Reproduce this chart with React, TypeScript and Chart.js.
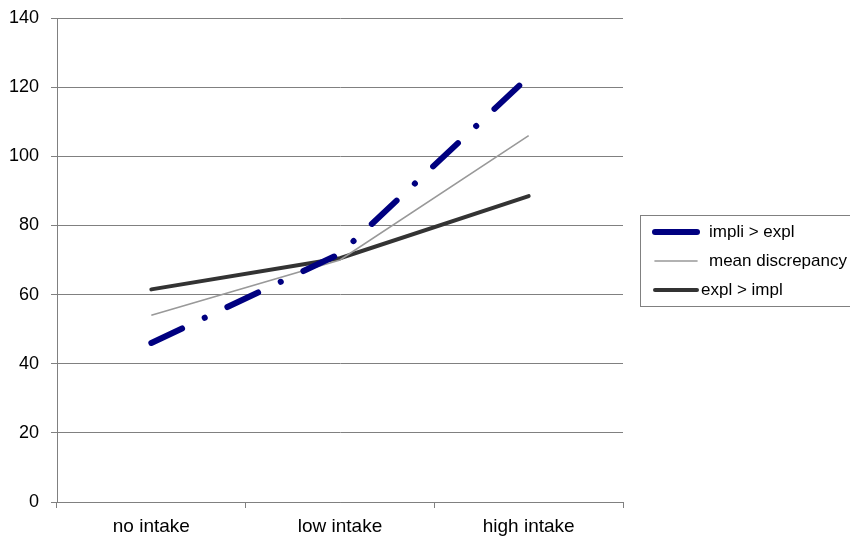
import React, { useEffect, useRef } from "react";
import { Chart, registerables } from "chart.js";

Chart.register(...registerables);

const categories = ["no intake", "low intake", "high intake"];
const impliGtExpl = [46, 71.8, 123];
const meanDiscrepancy = [54, 70, 106];
const explGtImpl = [61.5, 70.5, 88.5];
const seriesLabels = ["impli > expl", "mean discrepancy", "expl > impl"];
const yMin = 0;
const yMax = 140;
const yStep = 20;

const FONT = "'Liberation Sans', Arial, sans-serif";

const boxLegend = {
  id: "boxLegend",
  afterDraw(chart: any) {
    const ctx = chart.ctx;
    const left = 640.5;
    const top = 215.5;
    const w = 215;
    const h = 91;
    ctx.save();
    ctx.strokeStyle = "#808080";
    ctx.lineWidth = 1;
    ctx.strokeRect(left, top, w, h);
    const rowY = [232, 261, 290];
    chart.data.datasets.forEach((ds: any, i: number) => {
      const y = rowY[i];
      ctx.beginPath();
      ctx.setLineDash([]);
      ctx.lineCap = "round";
      ctx.strokeStyle = ds.borderColor;
      ctx.lineWidth = ds.legendWidth;
      ctx.moveTo(655, y);
      ctx.lineTo(697, y);
      ctx.stroke();
      ctx.fillStyle = "#000";
      ctx.font = `17px ${FONT}`;
      ctx.textBaseline = "middle";
      ctx.textAlign = "left";
      ctx.fillText(ds.label, i === 2 ? 701 : 709, y);
    });
    ctx.restore();
  },
};

export default function App() {
  const ref = useRef<HTMLCanvasElement | null>(null);
  useEffect(() => {
    if (!ref.current) return;
    const chart = new Chart(ref.current, {
      type: "line",
      data: {
        labels: categories,
        datasets: [
          {
            label: seriesLabels[0],
            data: impliGtExpl,
            borderColor: "#000080",
            borderWidth: 6,
            borderDash: [34, 25, 0.1, 25],
            borderCapStyle: "round",
            pointRadius: 0,
            tension: 0,
            legendWidth: 6,
          } as any,
          {
            label: seriesLabels[1],
            data: meanDiscrepancy,
            borderColor: "#999999",
            borderWidth: 1.6,
            pointRadius: 0,
            tension: 0,
            legendWidth: 1.6,
          } as any,
          {
            label: seriesLabels[2],
            data: explGtImpl,
            borderColor: "#333333",
            borderWidth: 4,
            borderCapStyle: "round",
            pointRadius: 0,
            tension: 0,
            legendWidth: 4,
          } as any,
        ],
      },
      options: {
        animation: false,
        responsive: true,
        maintainAspectRatio: false,
        layout: { padding: { top: 18, right: 227, left: 0, bottom: 0 } },
        plugins: {
          legend: { display: false },
          tooltip: { enabled: false },
        },
        scales: {
          x: {
            offset: true,
            grid: {
              offset: true,
              drawOnChartArea: false,
              drawTicks: true,
              tickLength: 6,
              color: "#808080",
            },
            border: { color: "#808080" },
            ticks: {
              color: "#000",
              font: { family: FONT, size: 19 },
              padding: 7,
              maxRotation: 0,
            },
            afterFit: (s: any) => {
              s.height = 34;
              s.paddingLeft = 0;
              s.paddingRight = 0;
            },
          },
          y: {
            min: yMin,
            max: yMax,
            ticks: {
              stepSize: yStep,
              color: "#000",
              font: { family: FONT, size: 18 },
              padding: 12,
            },
            grid: { color: "#808080", tickLength: 6 },
            border: { color: "#808080" },
            afterFit: (s: any) => {
              s.width = 57;
              s.paddingTop = 0;
              s.paddingBottom = 0;
            },
          },
        },
      },
      plugins: [boxLegend],
    });
    return () => chart.destroy();
  }, []);
  return (
    <div style={{ position: "fixed", left: 0, top: 0, width: 850, height: 536, background: "#fff" }}>
      <canvas ref={ref} />
    </div>
  );
}
